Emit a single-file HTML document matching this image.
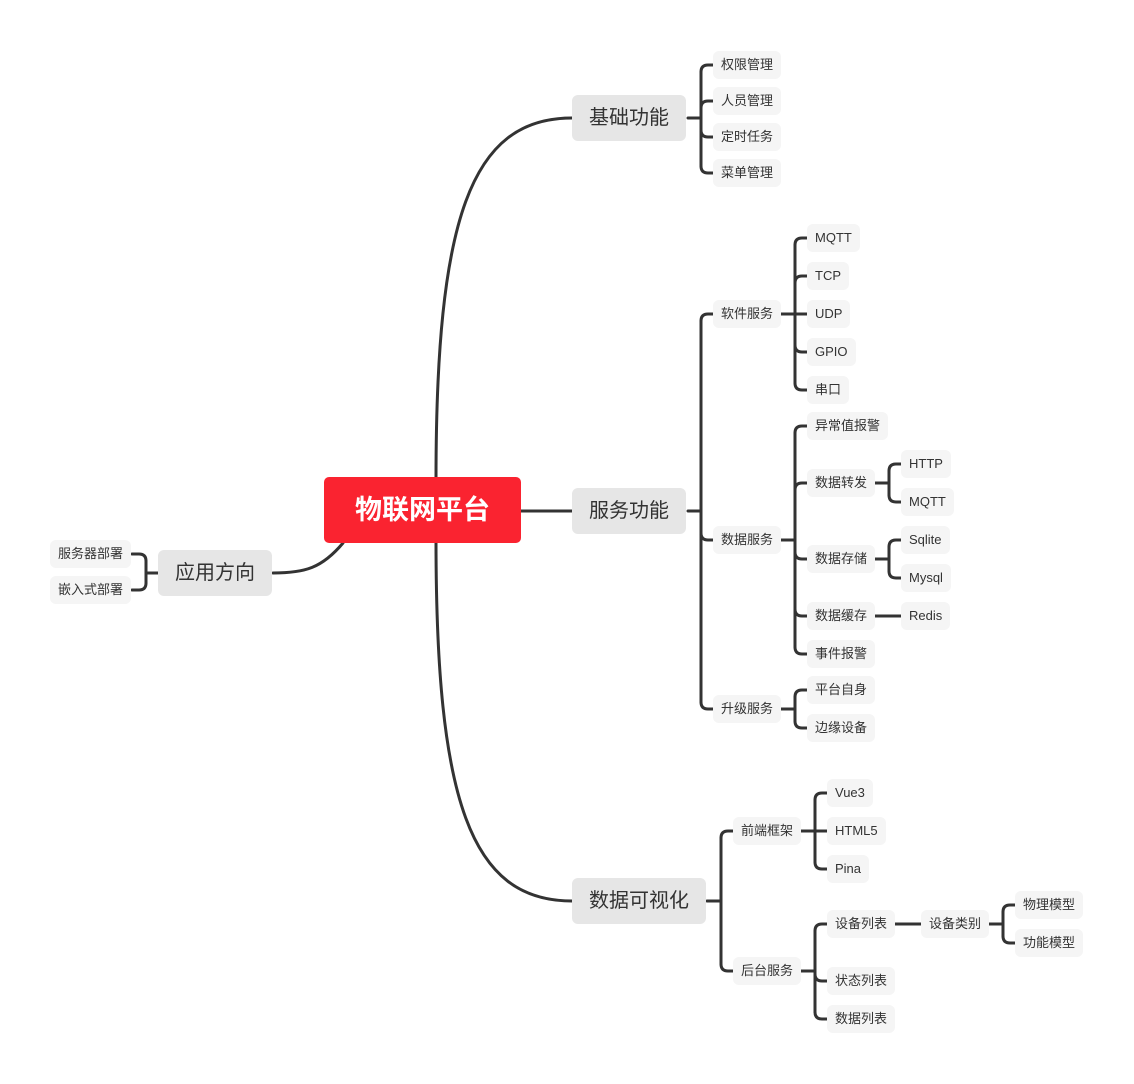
<!DOCTYPE html>
<html><head><meta charset="utf-8"><style>
html,body{margin:0;padding:0;background:#fff;}
body{width:1134px;height:1084px;position:relative;overflow:hidden;font-family:"Liberation Sans","Noto Sans CJK SC",sans-serif;}
.n{position:absolute;background:#f5f5f5;color:#333;font-size:13px;height:28px;line-height:28px;padding:0 8px;border-radius:6px;white-space:nowrap;}
.l1{position:absolute;background:#e6e6e6;color:#333;font-size:20px;height:46px;line-height:46px;padding:0 17px;border-radius:6px;white-space:nowrap;}
.root{position:absolute;left:324px;top:477px;width:197px;height:66px;line-height:66px;text-align:center;background:#fa2330;color:#fff;font-size:27px;font-weight:bold;border-radius:5px;}
svg{position:absolute;left:0;top:0;}
</style></head><body>
<svg id="s" width="1134" height="1084" fill="none" stroke="#333" stroke-width="3" stroke-linecap="round">
<path d="M436,480 C436,220 470,118 572,118"/>
<path d="M436,540 C436,800 470,901 572,901"/>
<path d="M521,511 L572,511"/>
<path d="M343,543 C322,568 305,573 273,573"/>
</svg>
<div class="root">物联网平台</div>
<div class="l1" style="left:158px;top:550px">应用方向</div>
<div class="l1" style="left:572px;top:95px">基础功能</div>
<div class="l1" style="left:572px;top:488px">服务功能</div>
<div class="l1" style="left:572px;top:878px">数据可视化</div>
<div id="nodes"></div>
<script>
var s=document.getElementById('s'),N=document.getElementById('nodes');
function node(t,x,y){var d=document.createElement('div');d.className='n';d.style.left=x+'px';d.style.top=(y-14)+'px';d.textContent=t;N.appendChild(d);}
function p(d){var e=document.createElementNS('http://www.w3.org/2000/svg','path');e.setAttribute('d',d);s.appendChild(e);}
function br(px,py,bx,cx,ys,right){
 var dir=right?1:-1;
 p('M'+px+','+py+' L'+bx+','+py);
 var mn=Math.min.apply(null,ys),mx=Math.max.apply(null,ys);
 if(ys.length>1)p('M'+bx+','+(mn+7)+' L'+bx+','+(mx-7));
 ys.forEach(function(y){
  if(Math.abs(y-py)<1){p('M'+bx+','+y+' L'+cx+','+y);return;}
  var sy=y<py?y+7:y-7;
  p('M'+bx+','+sy+' Q'+bx+','+y+' '+(bx+7*dir)+','+y+' L'+cx+','+y);
 });
}
br(158,573,146,132,[554,590],false);
node('服务器部署',50,554);node('嵌入式部署',50,590);
br(688,118,701,713,[65,101,137,173],true);
[['权限管理',65],['人员管理',101],['定时任务',137],['菜单管理',173]].forEach(function(a){node(a[0],713,a[1]);});
br(688,511,701,713,[314,540,709],true);
node('软件服务',713,314);node('数据服务',713,540);node('升级服务',713,709);
br(781,314,795,807,[238,276,314,352,390],true);
[['MQTT',238],['TCP',276],['UDP',314],['GPIO',352],['串口',390]].forEach(function(a){node(a[0],807,a[1]);});
br(781,540,795,807,[426,483,559,616,654],true);
[['异常值报警',426],['数据转发',483],['数据存储',559],['数据缓存',616],['事件报警',654]].forEach(function(a){node(a[0],807,a[1]);});
br(875,483,889,901,[464,502],true);node('HTTP',901,464);node('MQTT',901,502);
br(875,559,889,901,[540,578],true);node('Sqlite',901,540);node('Mysql',901,578);
p('M875,616 L901,616');node('Redis',901,616);
br(781,709,795,807,[690,728],true);node('平台自身',807,690);node('边缘设备',807,728);
br(707,901,721,733,[831,971],true);node('前端框架',733,831);node('后台服务',733,971);
br(801,831,815,827,[793,831,869],true);node('Vue3',827,793);node('HTML5',827,831);node('Pina',827,869);
br(801,971,815,827,[924,981,1019],true);node('设备列表',827,924);node('状态列表',827,981);node('数据列表',827,1019);
p('M895,924 L921,924');node('设备类别',921,924);
br(989,924,1003,1015,[905,943],true);node('物理模型',1015,905);node('功能模型',1015,943);
</script>
</body></html>
